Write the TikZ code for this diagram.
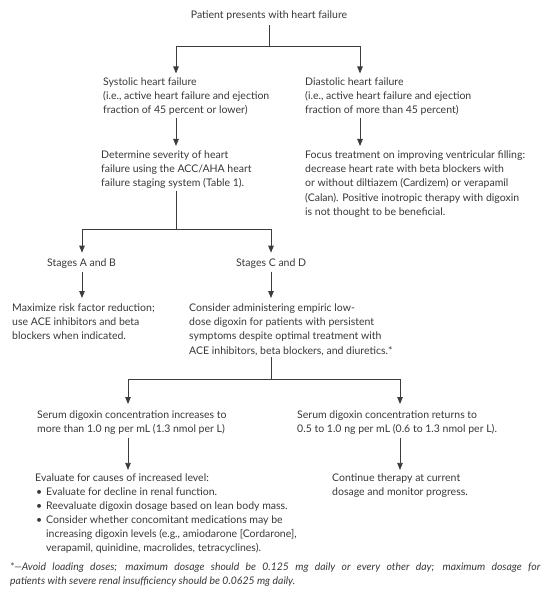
\documentclass[tikz,border=0pt]{standalone}
\usepackage{fontspec}
\setmainfont{Lato}
\usetikzlibrary{arrows.meta}
\definecolor{txtc}{HTML}{383838}
\definecolor{lnc}{HTML}{3C3C3C}
\newcommand\bul{\makebox[11pt][l]{\hspace{1pt}\textbullet}}
\newcommand\ind{\hspace*{11pt}}
\begin{document}
\begin{tikzpicture}[x=1pt,y=-1pt,
  txt/.style={anchor=north west, inner sep=0pt, align=left, text=txtc, font=\fontsize{10.5}{14.3}\selectfont},
  one/.style={txt, anchor=base west},
  conn/.style={draw=lnc, line width=0.8pt},
  arr/.style={conn, -{Triangle[length=7pt,width=5.5pt]}},
]
\useasboundingbox (0,0) rectangle (550,596);
% nodes
\node[one, anchor=base] (t) at (269,19) {Patient presents with heart failure};
\node[txt] (sys) at (103,77.4) {Systolic heart failure\\(i.e., active heart failure and ejection\\fraction of 45 percent or lower)};
\node[txt] (dia) at (305,77.4) {Diastolic heart failure\\(i.e., active heart failure and ejection\\fraction of more than 45 percent)};
\node[txt] (det) at (101,150.4) {Determine severity of heart\\failure using the ACC/AHA heart\\failure staging system (Table 1).};
\node[txt] (foc) at (305,150.4) {Focus treatment on improving ventricular filling:\\decrease heart rate with beta blockers with\\or without diltiazem (Cardizem) or verapamil\\(Calan). Positive inotropic therapy with digoxin\\is not thought to be beneficial.};
\node[one] (sab) at (47,266) {Stages A and B};
\node[one] (scd) at (236,266) {Stages C and D};
\node[txt] (max) at (12,303.4) {Maximize risk factor reduction;\\use ACE inhibitors and beta\\blockers when indicated.};
\node[txt] (con) at (189,303.4) {Consider administering empiric low-\\dose digoxin for patients with persistent\\symptoms despite optimal treatment with\\ACE inhibitors, beta blockers, and diuretics.*};
\node[txt] (sl) at (37,410.4) {Serum digoxin concentration increases to\\more than 1.0 ng per mL (1.3 nmol per L)};
\node[txt] (sr) at (297,410.4) {Serum digoxin concentration returns to\\0.5 to 1.0 ng per mL (0.6 to 1.3 nmol per L).};
\node[txt, font=\fontsize{10.5}{14}\selectfont] (ev) at (35,473.4) {Evaluate for causes of increased level:\\\bul Evaluate for decline in renal function.\\\bul Reevaluate digoxin dosage based on lean body mass.\\\bul Consider whether concomitant medications may be\\\ind increasing digoxin levels (e.g., amiodarone [Cordarone],\\\ind verapamil, quinidine, macrolides, tetracyclines).};
\node[txt, font=\fontsize{10.5}{14}\selectfont] (cont) at (332,473.4) {Continue therapy at current\\dosage and monitor progress.};
\node[txt, text width=530pt, align=justify, font=\fontsize{10.4}{14.3}\selectfont\itshape] (fn) at (10,562.4) {*---Avoid loading doses; maximum dosage should be 0.125 mg daily or every other day; maximum dosage for\linebreak patients with severe renal insufficiency should be 0.0625 mg daily.};
% junctions and columns
\coordinate (j1) at (269,46);
\coordinate (j2) at (176,229);
\coordinate (j3) at (271,379);
\coordinate (xA) at (176,0);
\coordinate (xB) at (360,0);
\coordinate (xC) at (82,0);
\coordinate (xD) at (271,0);
\coordinate (xE) at (128,0);
\coordinate (xF) at (400,0);
% connectors
\draw[conn, shorten <=4pt] (t.south) -- (j1);
\draw[arr, shorten >=4pt] (j1) -| (sys.north -| xA);
\draw[arr, shorten >=4pt] (j1) -| (dia.north -| xB);
\draw[arr, shorten <=2pt, shorten >=4.4pt] (sys.south -| xA) -- (det.north -| xA);
\draw[arr, shorten <=2pt, shorten >=4.4pt] (dia.south -| xB) -- (foc.north -| xB);
\draw[conn, shorten <=1.5pt] (det.south -| j2) -- (j2);
\draw[arr, shorten >=5.4pt] (j2) -| (sab.north -| xC);
\draw[arr, shorten >=5.4pt] (j2) -| (scd.north -| xD);
\draw[arr, shorten <=3.5pt, shorten >=5.4pt] (sab.south -| xC) -- (max.north -| xC);
\draw[arr, shorten <=3.5pt, shorten >=5.4pt] (scd.south -| xD) -- (con.north -| xD);
\draw[conn, shorten <=1.5pt] (con.south -| j3) -- (j3);
\draw[arr, shorten >=6.4pt] (j3) -| (sl.north -| xE);
\draw[arr, shorten >=6.4pt] (j3) -| (sr.north -| xF);
\draw[arr, shorten <=3pt, shorten >=3.5pt] (sl.south -| xE) -- (ev.north -| xE);
\draw[arr, shorten <=3pt, shorten >=3.5pt] (sr.south -| xF) -- (cont.north -| xF);
\end{tikzpicture}
\end{document}
